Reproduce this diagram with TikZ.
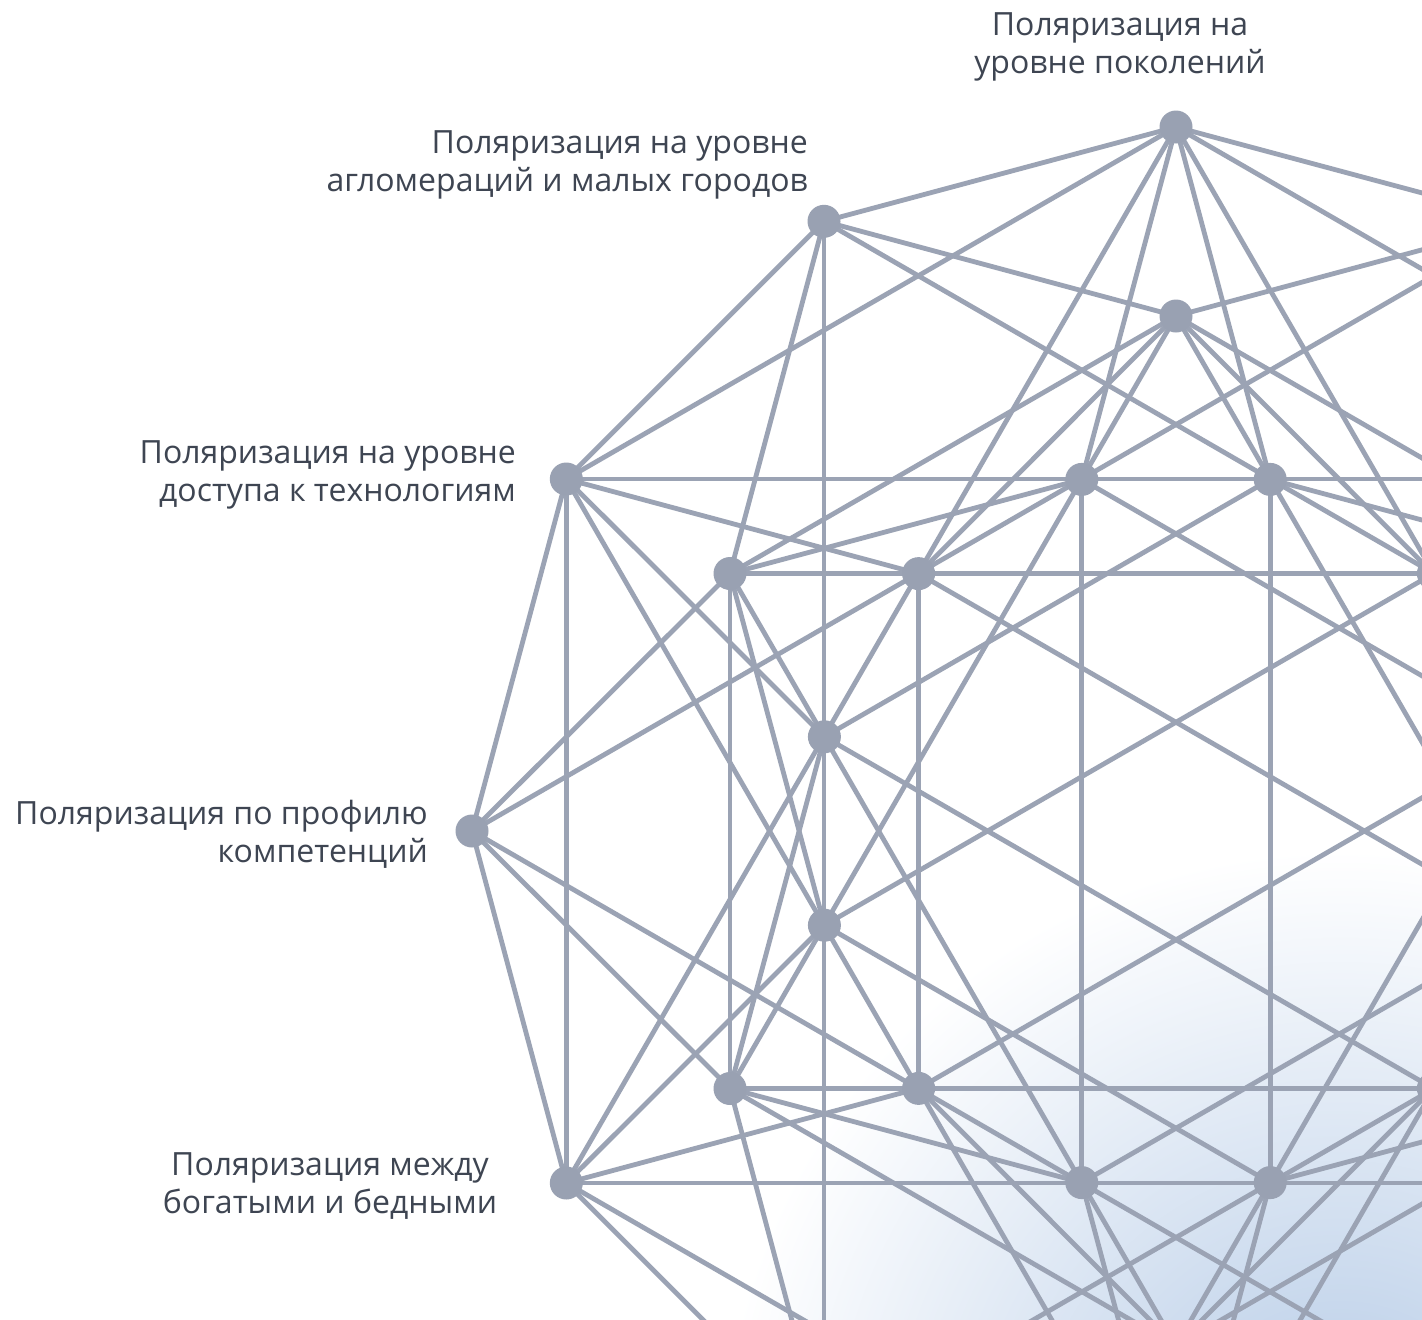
\documentclass[tikz,border=0pt]{standalone}
\usepackage{fontspec}
\setmainfont{Open Sans}
\definecolor{lc}{HTML}{9BA3B4}
\definecolor{nc}{HTML}{99A1B2}
\definecolor{tc}{HTML}{3E4552}
\definecolor{glow}{HTML}{B4CAE6}
\begin{document}
\begin{tikzpicture}[x=1pt,y=-1pt,
  edge/.style={draw=lc, line width=4.8pt},
  dot/.style={circle, fill=nc, minimum size=33pt, inner sep=0pt, outer sep=0pt},
  lab/.style={text=tc, font=\fontsize{32}{38}\selectfont, inner sep=0pt}]
\useasboundingbox (0,0) rectangle (1422,1320);
\clip (0,0) rectangle (1422,1320);
\fill[white] (0,0) rectangle (1422,1320);
\shade[inner color=glow, outer color=white] (1340,1470) circle (620);
% coordinates of the three rings
\foreach \t in {0,30,...,330} \coordinate (O\t) at ({1176-704*sin(\t)},{831-704*cos(\t)});
\foreach \t in {0,60,...,300} \coordinate (M\t) at ({1176-515*sin(\t)},{831-515*cos(\t)});
\foreach \t in {15,45,...,345} \coordinate (I\t) at ({1176-364*sin(\t)},{831-364*cos(\t)});
% outer ring: sides and 120-degree chords
\foreach \t in {0,30,...,330}{
  \pgfmathtruncatemacro\na{mod(\t+30,360)}
  \pgfmathtruncatemacro\nb{mod(\t+120,360)}
  \draw[edge] (O\t) -- (O\na);
  \draw[edge] (O\t) -- (O\nb);
}
% hexagon-based families
\foreach \t in {0,60,...,300}{
  \pgfmathtruncatemacro\na{mod(\t+60,360)}
  \pgfmathtruncatemacro\nb{mod(\t+120,360)}
  \pgfmathtruncatemacro\np{mod(\t+15,360)}
  \pgfmathtruncatemacro\nq{mod(\t+345,360)}
  \pgfmathtruncatemacro\nr{mod(\t+30,360)}
  \pgfmathtruncatemacro\ns{mod(\t+330,360)}
  \pgfmathtruncatemacro\nm{mod(\t+45,360)}
  \pgfmathtruncatemacro\nn{mod(\t+315,360)}
  \draw[edge] (O\t) -- (O\na);
  \draw[edge] (O\t) -- (I\np);
  \draw[edge] (O\t) -- (I\nq);
  \draw[edge] (M\t) -- (M\na);
  \draw[edge] (M\t) -- (M\nb);
  \draw[edge] (M\t) -- (O\nr);
  \draw[edge] (M\t) -- (O\ns);
  \draw[edge] (M\t) -- (I\nm);
  \draw[edge] (M\t) -- (I\nn);
}
% inner ring chords
\foreach \t in {45,105,...,345}{
  \pgfmathtruncatemacro\na{mod(\t+90,360)}
  \draw[edge] (I\t) -- (I\na);
}
\foreach \t in {15,75,...,315}{
  \pgfmathtruncatemacro\na{mod(\t+150,360)}
  \draw[edge] (I\t) -- (I\na);
}
% dots
\foreach \t in {0,30,...,330} \node[dot] (dO\t) at (O\t) {};
\foreach \t in {0,60,...,300} \node[dot] (dM\t) at (M\t) {};
\foreach \t in {15,45,...,345} \node[dot] (dI\t) at (I\t) {};
% labels
\node[lab, align=center] (t1) at (1120,47) {Поляризация на\\уровне поколений};
\node[lab, align=right, anchor=east] (t2) at (808,165) {Поляризация на уровне\\агломераций и малых городов};
\node[lab, align=right, anchor=east] (t3) at (516,475) {Поляризация на уровне\\доступа к технологиям};
\node[lab, align=right, anchor=east] (t4) at (428,834) {Поляризация по профилю\\компетенций};
\node[lab, align=center] (t5) at (330,1186) {Поляризация между\\богатыми и бедными};
\end{tikzpicture}
\end{document}
